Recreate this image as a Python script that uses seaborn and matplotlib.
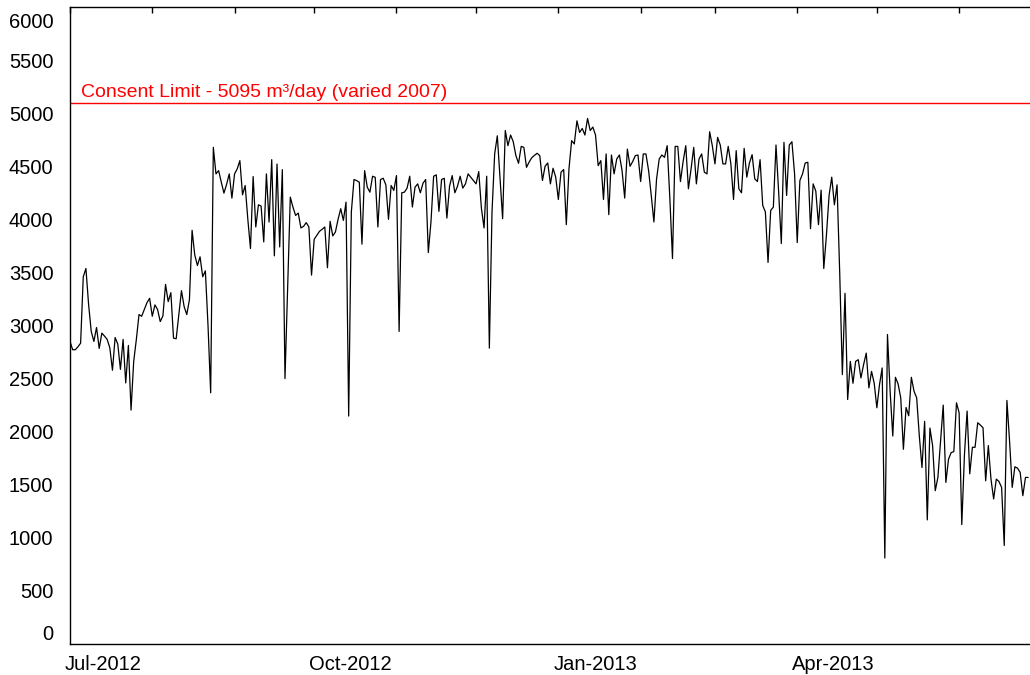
import matplotlib
matplotlib.use("Agg")
import matplotlib.pyplot as plt
import matplotlib.dates as mdates
import matplotlib.transforms as mtransforms
import pandas as pd
import seaborn as sns

# Daily water take (m³/day), one value per day starting 1 July 2012
start_date = "2012-07-01"
daily_take = [
    2850, 2772, 2772, 2800, 2834, 3459, 3537, 3200, 2944, 2850,
    2981, 2784, 2928, 2900, 2869, 2790, 2578, 2887, 2825, 2587,
    2869, 2459, 2812, 2203, 2662, 2869, 3103, 3087, 3150, 3215,
    3256, 3087, 3194, 3150, 3037, 3090, 3387, 3225, 3309, 2881,
    2875, 3100, 3328, 3178, 3103, 3244, 3897, 3665, 3565, 3647,
    3459, 3515, 3000, 2366, 4678, 4428, 4459, 4350, 4247, 4330,
    4428, 4200, 4428, 4475, 4553, 4231, 4318, 4000, 3725, 4403,
    3928, 4137, 4125, 3787, 4428, 3975, 4562, 3656, 4521, 3740,
    4468, 2500, 3350, 4209, 4115, 4037, 4059, 3919, 3934, 3969,
    3928, 3475, 3812, 3850, 3887, 3906, 3928, 3544, 3981, 3844,
    3881, 4000, 4100, 3990, 4162, 2147, 4069, 4375, 4365, 4350,
    3766, 4459, 4303, 4256, 4406, 4396, 3928, 4375, 4387, 4325,
    4000, 4319, 4272, 4412, 2944, 4250, 4256, 4294, 4406, 4116,
    4303, 4334, 4250, 4340, 4375, 3687, 3975, 4406, 4419, 4075,
    4375, 4387, 4012, 4312, 4412, 4250, 4312, 4406, 4294, 4334,
    4428, 4396, 4365, 4334, 4450, 4106, 3919, 4406, 2787, 4069,
    4616, 4787, 4400, 4006, 4837, 4694, 4794, 4731, 4600, 4528,
    4687, 4678, 4490, 4540, 4581, 4603, 4622, 4600, 4366, 4500,
    4531, 4334, 4481, 4397, 4187, 4444, 4469, 3950, 4475, 4741,
    4710, 4928, 4818, 4856, 4794, 4950, 4837, 4869, 4794, 4506,
    4553, 4187, 4616, 4044, 4606, 4428, 4569, 4606, 4459, 4200,
    4662, 4500, 4544, 4600, 4606, 4356, 4616, 4616, 4459, 4225,
    3975, 4381, 4569, 4606, 4584, 4694, 4200, 3631, 4687, 4687,
    4356, 4544, 4694, 4288, 4475, 4678, 4334, 4569, 4616, 4444,
    4428, 4825, 4694, 4522, 4772, 4700, 4522, 4522, 4687, 4522,
    4187, 4647, 4288, 4250, 4669, 4397, 4531, 4609, 4381, 4356,
    4562, 4131, 4069, 3594, 4084, 4115, 4700, 4256, 3772, 4725,
    4225, 4700, 4731, 4428, 3781, 4366, 4428, 4531, 4537, 3912,
    4334, 4265, 3950, 4275, 3537, 3850, 4225, 4397, 4137, 4325,
    3500, 2537, 3303, 2303, 2662, 2456, 2662, 2678, 2506, 2631,
    2740, 2412, 2568, 2456, 2225, 2443, 2600, 810, 2915, 2381,
    1959, 2512, 2450, 2319, 1834, 2228, 2150, 2512, 2381, 2319,
    1959, 1662, 2097, 1169, 2034, 1869, 1444, 1569, 1909, 2250,
    1522, 1741, 1803, 1812, 2272, 2178, 1125, 1781, 2194, 1603,
    1853, 1853, 2084, 2062, 2037, 1537, 1869, 1553, 1366, 1553,
    1531, 1475, 928, 2294, 1912, 1475, 1669, 1656, 1616, 1397,
    1569, 1569,
]

consent_limit = 5095
limit_label = "Consent Limit - 5095 m³/day (varied 2007)"
y_ticks = [0, 500, 1000, 1500, 2000, 2500, 3000, 3500, 4000, 4500, 5000, 5500, 6000]
month_starts = pd.date_range("2012-07-01", "2013-06-01", freq="MS")
quarter_labels = {"2012-07": "Jul-2012", "2012-10": "Oct-2012",
                  "2013-01": "Jan-2013", "2013-04": "Apr-2013"}

sns.set_theme(style="white")
plt.rcParams["font.family"] = ["Liberation Sans", "DejaVu Sans"]

dates = pd.date_range(start_date, periods=len(daily_take), freq="D")
df = pd.DataFrame({"date": dates, "take": daily_take})

W, H = 1030, 675
fig = plt.figure(figsize=(W / 100, H / 100), dpi=100)
ax = fig.add_axes([70 / W, 31 / H, 1 - 70 / W, (644 - 7) / H])

sns.lineplot(data=df, x="date", y="take", ax=ax, color="black", linewidth=0.9)
ax.axhline(consent_limit, color="#ff0000", linewidth=1.0)
ax.annotate(limit_label, xy=(0, consent_limit), xycoords=("axes fraction", "data"),
            xytext=(11, 6), textcoords="offset pixels", color="#ff0000",
            fontsize=14, ha="left", va="baseline")

x0 = mdates.date2num(pd.Timestamp(start_date))
ax.set_xlim(x0, x0 + 361.7)
ax.set_ylim(0, 6000)
ax.set_yticks(y_ticks)
ax.set_xticks(month_starts)
ax.set_xticklabels([quarter_labels.get(m.strftime("%Y-%m"), "") for m in month_starts])
ax.set_xlabel("")
ax.set_ylabel("")

ax.tick_params(direction="in", length=4, width=1, color="black",
               labelsize=14.5, labelcolor="black", top=True, right=False)
ax.tick_params(axis="y", pad=12)
ax.tick_params(axis="x", pad=8)

for side in ("left", "top", "bottom"):
    ax.spines[side].set_visible(True)
    ax.spines[side].set_color("black")
    ax.spines[side].set_linewidth(1.0)
ax.spines["right"].set_visible(False)
ax.grid(False)

# Month labels start just left of their tick
shift_left = mtransforms.ScaledTranslation(-5 / 100, 0, fig.dpi_scale_trans)
for lbl in ax.get_xticklabels():
    lbl.set_horizontalalignment("left")
    lbl.set_transform(lbl.get_transform() + shift_left)

# Keep the end labels of the value axis inside the frame
ylabels = ax.get_yticklabels()
ylabels[0].set_transform(ylabels[0].get_transform()
                         + mtransforms.ScaledTranslation(0, 12 / 100, fig.dpi_scale_trans))
ylabels[-1].set_transform(ylabels[-1].get_transform()
                          + mtransforms.ScaledTranslation(0, -13 / 100, fig.dpi_scale_trans))

fig.savefig("out.png", dpi=100)
